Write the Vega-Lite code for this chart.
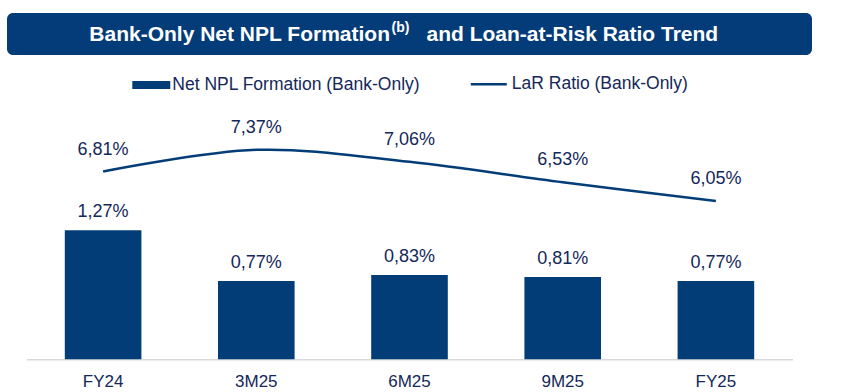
{
  "$schema": "https://vega.github.io/schema/vega-lite/v6.json",
  "background": "white",
  "padding": {"left": 7, "top": 13, "right": 0, "bottom": 0},
  "spacing": 9.2,
  "center": true,
  "config": {
    "font": "Liberation Sans",
    "locale": {"number": {"decimal": ",", "thousands": ".", "grouping": [3], "currency": ["", " €"]}}
  },
  "datasets": {
    "rows": [
      {"period": "FY24", "npl": 0.0127, "lar": 0.0681},
      {"period": "3M25", "npl": 0.0077, "lar": 0.0737},
      {"period": "6M25", "npl": 0.0083, "lar": 0.0706},
      {"period": "9M25", "npl": 0.0081, "lar": 0.0653},
      {"period": "FY25", "npl": 0.0077, "lar": 0.0605}
    ],
    "titleRow": [
      {"a": "Bank-Only Net NPL Formation", "b": "(b)", "c": "and Loan-at-Risk Ratio Trend"}
    ]
  },
  "vconcat": [
    {
      "width": 805,
      "height": 42,
      "view": {"fill": "#033C78", "stroke": null, "cornerRadius": 6},
      "data": {"name": "titleRow"},
      "layer": [
        {
          "mark": {"type": "text", "color": "white", "fontSize": 21, "fontWeight": "bold", "font": "Liberation Sans", "align": "right", "baseline": "middle", "dx": -19.5, "dy": 1},
          "encoding": {"text": {"field": "a", "type": "nominal"}}
        },
        {
          "mark": {"type": "text", "color": "white", "fontSize": 14, "fontWeight": "bold", "font": "Liberation Sans", "align": "left", "baseline": "middle", "dx": -18, "dy": -6},
          "encoding": {"text": {"field": "b", "type": "nominal"}}
        },
        {
          "mark": {"type": "text", "color": "white", "fontSize": 21, "fontWeight": "bold", "font": "Liberation Sans", "align": "left", "baseline": "middle", "dx": 17, "dy": 1},
          "encoding": {"text": {"field": "c", "type": "nominal"}}
        }
      ]
    },
    {
      "width": 766,
      "height": 249,
      "view": {"stroke": null},
      "data": {"name": "rows"},
      "encoding": {
        "x": {
          "field": "period",
          "type": "nominal",
          "sort": null,
          "scale": {"paddingInner": 0.5, "paddingOuter": 0.25},
          "axis": {
            "title": null,
            "labelAngle": 0,
            "ticks": false,
            "domain": true,
            "domainColor": "#D9D9D9",
            "domainWidth": 1.5,
            "labelFontSize": 17,
            "labelColor": "#14285A",
            "labelFont": "Liberation Sans",
            "labelPadding": 14,
            "grid": false
          }
        }
      },
      "layer": [
        {
          "encoding": {
            "y": {"field": "npl", "type": "quantitative", "scale": {"domain": [0, 0.02453], "nice": false, "zero": true}, "axis": null}
          },
          "layer": [
            {
              "mark": {"type": "bar"},
              "encoding": {
                "color": {
                  "datum": "Net NPL Formation (Bank-Only)",
                  "type": "nominal",
                  "scale": {"range": ["#023D78"]},
                  "legend": {
                    "title": null,
                    "orient": "none",
                    "legendX": 105.8,
                    "legendY": -44.2,
                    "symbolType": "M-1,-0.21H1V0.21H-1Z",
                    "symbolSize": 1444,
                    "symbolStrokeWidth": 0,
                    "symbolFillColor": "#023D78",
                    "labelFontSize": 17.5,
                    "labelColor": "#14285A",
                    "labelFont": "Liberation Sans",
                    "labelOffset": 2,
                    "labelLimit": 500,
                    "padding": 0
                  }
                }
              }
            },
            {
              "mark": {"type": "text", "dy": -18, "fontSize": 18, "color": "#14285A", "font": "Liberation Sans", "baseline": "middle"},
              "encoding": {"text": {"field": "npl", "type": "quantitative", "format": ".2%"}}
            }
          ]
        },
        {
          "encoding": {
            "y": {"field": "lar", "type": "quantitative", "scale": {"domain": [0.0196, 0.08394], "nice": false, "zero": false}, "axis": null}
          },
          "layer": [
            {
              "mark": {"type": "line", "interpolate": "cardinal", "strokeWidth": 2.5},
              "encoding": {
                "color": {
                  "datum": "LaR Ratio (Bank-Only)",
                  "type": "nominal",
                  "scale": {"range": ["#023D78"]},
                  "legend": {
                    "title": null,
                    "orient": "none",
                    "legendX": 442.8,
                    "legendY": -45.5,
                    "symbolType": "stroke",
                    "symbolSize": 1296,
                    "symbolStrokeWidth": 2.5,
                    "symbolStrokeColor": "#023D78",
                    "labelFontSize": 17.5,
                    "labelColor": "#14285A",
                    "labelFont": "Liberation Sans",
                    "labelOffset": 3.5,
                    "labelLimit": 500,
                    "padding": 0
                  }
                }
              }
            },
            {
              "mark": {"type": "text", "dy": -22, "fontSize": 18, "color": "#14285A", "font": "Liberation Sans", "baseline": "middle"},
              "encoding": {"text": {"field": "lar", "type": "quantitative", "format": ".2%"}}
            }
          ]
        }
      ],
      "resolve": {"scale": {"y": "independent", "color": "independent"}}
    }
  ]
}
